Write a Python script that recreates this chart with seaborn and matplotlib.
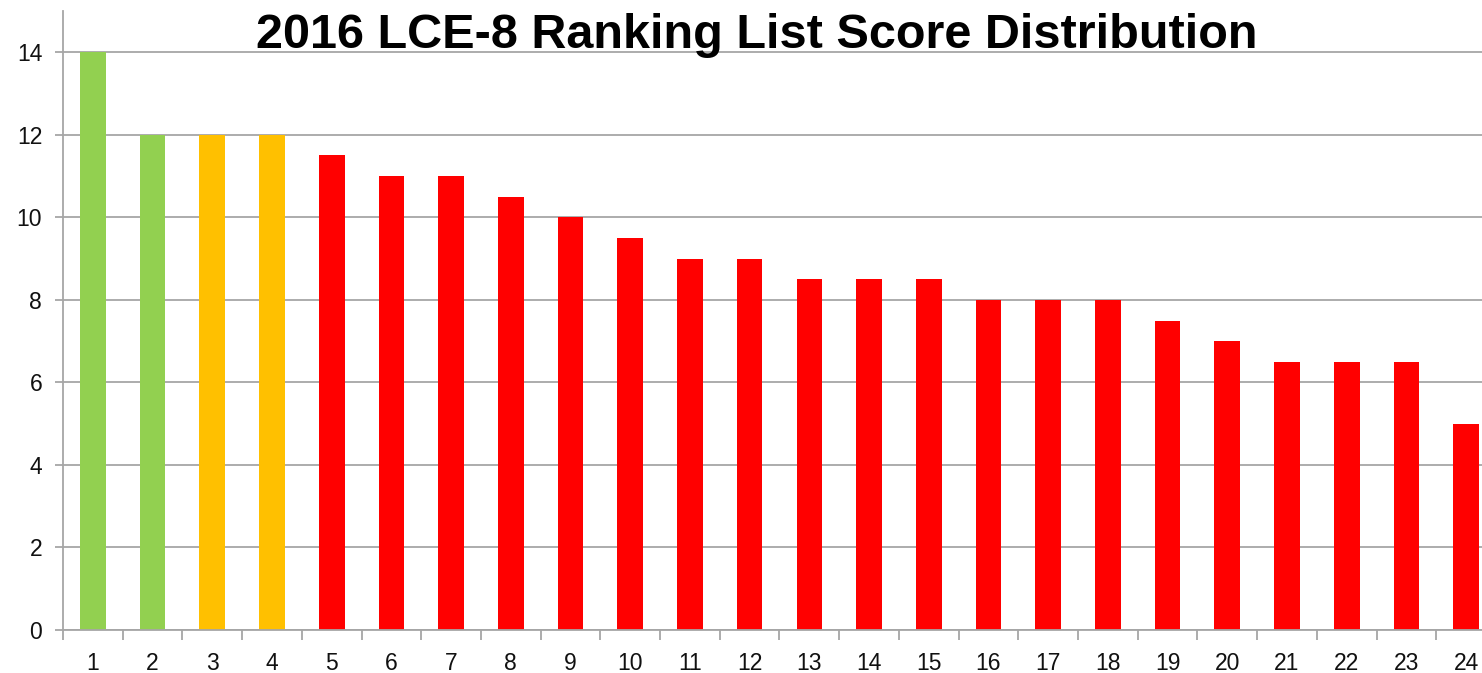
import matplotlib
matplotlib.use("Agg")
import matplotlib.pyplot as plt
import seaborn as sns
import pandas as pd
import numpy as np
from matplotlib.ticker import FixedLocator

ranks = [str(i) for i in range(1, 25)]
scores = [14, 12, 12, 12, 11.5, 11, 11, 10.5, 10, 9.5, 9, 9,
          8.5, 8.5, 8.5, 8, 8, 8, 7.5, 7, 6.5, 6.5, 6.5, 5]
bar_colors = ["#92D050", "#92D050", "#FFC000", "#FFC000"] + ["#FF0000"] * 20
yticks = [0, 2, 4, 6, 8, 10, 12, 14]
title = "2016 LCE-8 Ranking List Score Distribution"

sns.set_theme(style="white")
plt.rcParams['font.family'] = ['Liberation Sans', 'DejaVu Sans']

df = pd.DataFrame({"rank": ranks, "score": scores})

W, H = 1482, 673
fig = plt.figure(figsize=(W / 100, H / 100), dpi=100)
left, right, bottom, top = 63, 1496, 630, 11
ax = fig.add_axes([left / W, (H - bottom) / H, (right - left) / W, (bottom - top) / H])

sns.barplot(data=df, x="rank", y="score", hue="rank", palette=bar_colors,
            width=0.43, legend=False, ax=ax, saturation=1, linewidth=0)

ax.set_xlim(-0.5, 23.5)
ax.set_ylim(0, 15)
ax.set_yticks(yticks)
ax.set_yticklabels([str(v) for v in yticks])
grid_c = "#A6A6A6"
ax.yaxis.grid(True, color=grid_c, linewidth=1.3)
ax.set_axisbelow(True)
for s in ["top", "right"]:
    ax.spines[s].set_visible(False)
for s in ["left", "bottom"]:
    ax.spines[s].set_color(grid_c)
    ax.spines[s].set_linewidth(1.3)

ax.set_xlabel("")
ax.set_ylabel("")
ax.tick_params(axis="y", which="major", length=6, width=1.3, color=grid_c,
               pad=9, labelsize=16.5, labelcolor="#111111", left=True)
ax.tick_params(axis="x", which="major", length=0, pad=16, labelsize=16.5,
               labelcolor="#111111")
ax.xaxis.set_minor_locator(FixedLocator(np.arange(-0.5, 24.0, 1.0)))
ax.tick_params(axis="x", which="minor", length=7, width=1.3, color=grid_c,
               bottom=True)

fig.text(757 / W, 1 - 48 / H, title, ha="center", va="baseline",
         fontsize=35, fontweight="bold", color="black")

fig.savefig("out.png", dpi=100)
